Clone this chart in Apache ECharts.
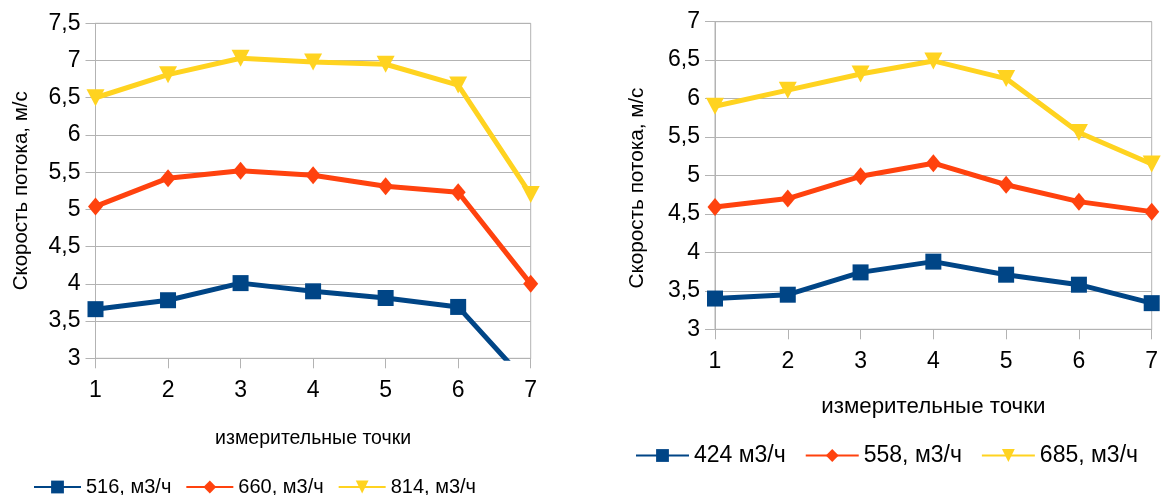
<!DOCTYPE html>
<html>
<head>
<meta charset="utf-8">
<script src="https://cdn.jsdelivr.net/npm/echarts@6/dist/echarts.min.js"></script>
<style>
html,body{margin:0;padding:0;background:#fff;}
#c{width:1169px;height:495px;}
</style>
</head>
<body>
<div id="c"></div>
<script>
const categories = ['1', '2', '3', '4', '5', '6', '7'];
const yTitle = 'Скорость потока, м/с';
const xTitle = 'измерительные точки';

const leftNames = ['516, м3/ч', '660, м3/ч', '814, м3/ч'];
const left516 = [3.66, 3.78, 4.01, 3.90, 3.81, 3.69, 2.62];
const left660 = [5.04, 5.42, 5.52, 5.46, 5.31, 5.23, 4.00];
const left814 = [6.50, 6.81, 7.03, 6.98, 6.95, 6.67, 5.20];

const rightNames = ['424 м3/ч', '558, м3/ч', '685, м3/ч'];
const right424 = [3.40, 3.45, 3.74, 3.88, 3.71, 3.58, 3.34];
const right558 = [4.59, 4.70, 4.99, 5.16, 4.88, 4.66, 4.53];
const right685 = [5.90, 6.11, 6.32, 6.49, 6.26, 5.56, 5.15];

const colors = ['#004586', '#ff420e', '#ffd320'];
const symbols = [
  {symbol: 'rect', symbolSize: 16, symbolRotate: 0},
  {symbol: 'diamond', symbolSize: [15, 18], symbolRotate: 0},
  {symbol: 'triangle', symbolSize: [18, 17], symbolRotate: 180}
];
const FONT = '"Liberation Sans", Arial, sans-serif';
const gridColor = '#b3b3b3';

function xAxis(gi) {
  return {
    type: 'category', gridIndex: gi, data: categories, boundaryGap: false,
    name: xTitle, nameLocation: 'middle', nameGap: gi === 0 ? 70 : 67,
    nameTextStyle: {fontFamily: FONT, fontSize: gi === 0 ? 19.5 : 22.3, color: '#000'},
    axisLine: {show: true, lineStyle: {color: gridColor, width: 1}},
    axisTick: {show: true, length: 10, lineStyle: {color: gridColor}},
    axisLabel: {fontFamily: FONT, fontSize: 23, color: '#000', margin: 21},
    splitLine: {show: false}
  };
}
function yAxis(gi, max) {
  return {
    type: 'value', gridIndex: gi, min: 3, max: max, interval: 0.5,
    name: yTitle, nameLocation: 'middle', nameRotate: 90, nameGap: gi === 0 ? 64 : 67,
    nameTextStyle: {fontFamily: FONT, fontSize: gi === 0 ? 20.5 : 20.7, color: '#000',
      padding: gi === 0 ? 0 : [0, 25, 0, 0]},
    axisLine: {show: true, lineStyle: {color: gridColor, width: 1}},
    axisTick: {show: true, length: 10, lineStyle: {color: gridColor}},
    axisLabel: {fontFamily: FONT, fontSize: 23, color: '#000', margin: 15,
      formatter: v => String(v).replace('.', ',')},
    splitLine: {show: true, lineStyle: {color: gridColor, width: 1}}
  };
}
function mkSeries(name, data, i, gi) {
  return Object.assign({
    name: name, type: 'line', data: data,
    xAxisIndex: gi, yAxisIndex: gi, clip: true,
    color: colors[i],
    lineStyle: {width: 5, color: colors[i]},
    itemStyle: {color: colors[i]},
    showSymbol: true, animation: false, z: 3 + i
  }, symbols[i]);
}

const chart = echarts.init(document.getElementById('c'), null, {renderer: 'canvas'});
chart.setOption({
  animation: false,
  backgroundColor: '#fff',
  grid: [
    {left: 95.5, top: 23.3, width: 435.2, height: 335, show: true, borderColor: gridColor, borderWidth: 1, containLabel: false},
    {left: 715, top: 21.7, width: 436.7, height: 307.6, show: true, borderColor: gridColor, borderWidth: 1, containLabel: false}
  ],
  xAxis: [xAxis(0), xAxis(1)],
  yAxis: [yAxis(0, 7.5), yAxis(1, 7)],
  legend: [
    {data: leftNames, left: 28, top: 472, itemWidth: 47, itemHeight: 16, itemGap: 14,
     textStyle: {fontFamily: FONT, fontSize: 20, color: '#000'}},
    {data: rightNames, left: 630, top: 439, itemWidth: 53, itemHeight: 16, itemGap: 19,
     textStyle: {fontFamily: FONT, fontSize: 23, color: '#000'}}
  ],
  series: [
    mkSeries(leftNames[0], left516, 0, 0),
    mkSeries(leftNames[1], left660, 1, 0),
    mkSeries(leftNames[2], left814, 2, 0),
    mkSeries(rightNames[0], right424, 0, 1),
    mkSeries(rightNames[1], right558, 1, 1),
    mkSeries(rightNames[2], right685, 2, 1)
  ]
});
</script>
</body>
</html>
